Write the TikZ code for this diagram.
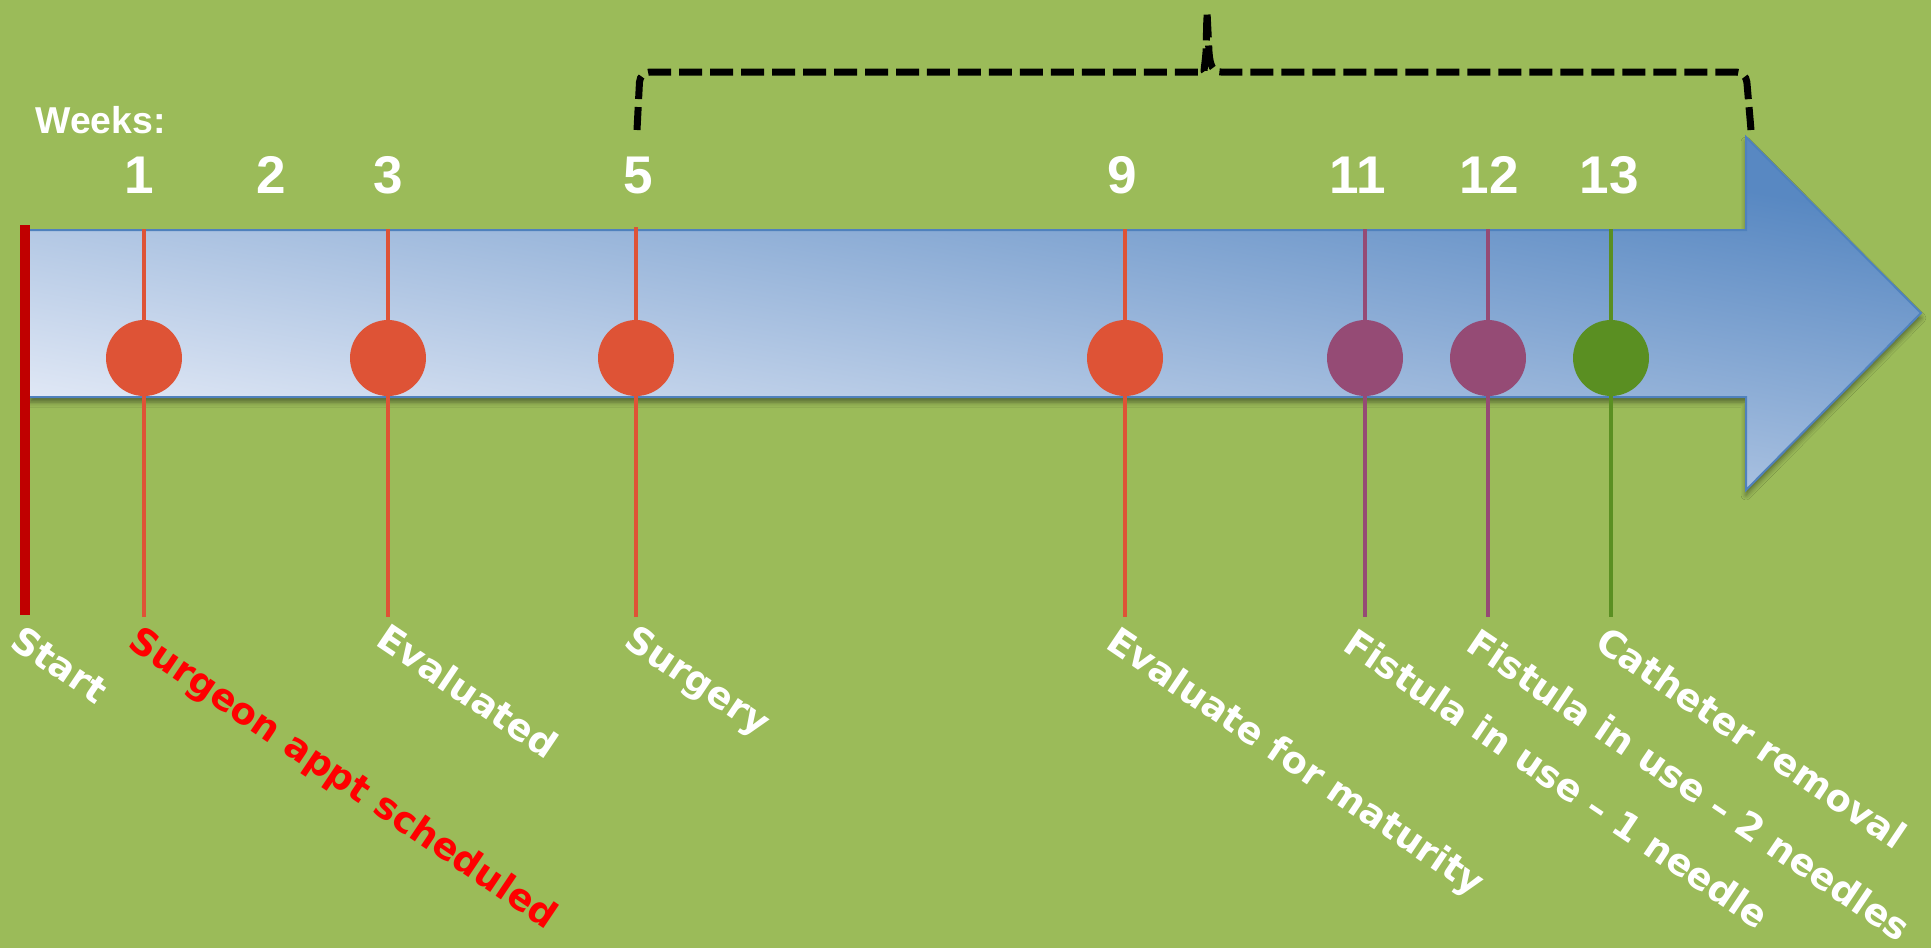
\documentclass[tikz,border=0pt]{standalone}
\usepackage{fontspec}
\setmainfont{Liberation Sans}
\newfontfamily\tagfont{DejaVu Sans}
\usepackage{xcolor}
\usetikzlibrary{shadows.blur}

\definecolor{slidegreen}{HTML}{9BBB59}
\definecolor{shaftlight}{HTML}{E2E9F6}
\definecolor{shaftdark}{HTML}{5888C2}
\definecolor{shaftedge}{HTML}{4F81BD}
\definecolor{dotred}{HTML}{DE5336}
\definecolor{dotpurple}{HTML}{954B75}
\definecolor{dotgreen}{HTML}{5A8F22}
\definecolor{startred}{HTML}{C00000}

\begin{document}
\begin{tikzpicture}[x=0.02cm, y=-0.02cm,
  week/.style={text=white, font=\fontsize{30.2pt}{36pt}\selectfont\bfseries, anchor=base, inner sep=0pt},
  milestone/.style={text=white, font=\tagfont\fontsize{21pt}{26pt}\selectfont\bfseries, rotate=-34, anchor=north west, inner sep=0pt},
  dot/.style={circle, minimum size=1.52cm, inner sep=0pt},
  stem/.style={line width=0.09cm},
  brace/.style={draw=black, line width=0.14cm, dash pattern=on 0.46cm off 0.16cm},
]

\useasboundingbox (0,0) rectangle (1931,948);
\fill[slidegreen] (0,0) rectangle (1931,948);

% timeline arrow: outline corners
\coordinate (a1) at (30,230);
\coordinate (a2) at (1746,230);
\coordinate (a3) at (1746,137);
\coordinate (tip) at (1921,313);
\coordinate (a5) at (1746,490);
\coordinate (a6) at (1746,397);
\coordinate (a7) at (30,397);

\fill[shaftdark, blur shadow={shadow xshift=0pt, shadow yshift=-0.1cm, shadow blur radius=0.1cm, shadow opacity=45}]
  (a1) -- (a2) -- (a3) -- (tip) -- (a5) -- (a6) -- (a7) -- cycle;
\begin{scope}
  \clip (a1) -- (a2) -- (a3) -- (tip) -- (a5) -- (a6) -- (a7) -- cycle;
  % gradient tilted a little so the top right is darkest
  \shade[transform canvas={rotate around={-10:(975,313)}}, top color=shaftdark, bottom color=shaftlight]
    (-300,58) rectangle (2250,568);
\end{scope}
\draw[shaftedge, line width=0.04cm] (a1) -- (a2) -- (a3) -- (tip) -- (a5) -- (a6) -- (a7);

\node[fill=startred, minimum width=0.2cm, minimum height=7.8cm, inner sep=0pt, anchor=north west] (startbar) at (20,225) {};

% week numbers
\node[text=white, font=\fontsize{21.3pt}{26pt}\selectfont\bfseries, anchor=base west, inner sep=0pt] (weeks) at (35,133) {Weeks:};
\node[week] (w1) at (139,193) {1};
\node[week] (w2) at (271,193) {2};
\node[week] (w3) at (388,193) {3};
\node[week] (w5) at (638,193) {5};
\node[week] (w9) at (1122,193) {9};
\node[week] (w11) at (1358,193) {11};
\node[week] (w12) at (1489,193) {12};
\node[week] (w13) at (1609,193) {13};

% stems
\coordinate (t1) at (144,229);  \coordinate (f1) at (144,617);
\coordinate (t3) at (388,229);  \coordinate (f3) at (388,617);
\coordinate (t5) at (636,227);  \coordinate (f5) at (636,617);
\coordinate (t9) at (1125,229); \coordinate (f9) at (1125,617);
\coordinate (t11) at (1365,229); \coordinate (f11) at (1365,617);
\coordinate (t12) at (1488,229); \coordinate (f12) at (1488,617);
\coordinate (t13) at (1611,229); \coordinate (f13) at (1611,617);

\draw[stem, dotred] (t1) -- (f1);
\draw[stem, dotred] (t3) -- (f3);
\draw[stem, dotred] (t5) -- (f5);
\draw[stem, dotred] (t9) -- (f9);
\draw[stem, dotpurple] (t11) -- (f11);
\draw[stem, dotpurple] (t12) -- (f12);
\draw[stem, dotgreen] (t13) -- (f13);

\node[dot, fill=dotred] (d1) at (144,358) {};
\node[dot, fill=dotred] (d3) at (388,358) {};
\node[dot, fill=dotred] (d5) at (636,358) {};
\node[dot, fill=dotred] (d9) at (1125,358) {};
\node[dot, fill=dotpurple] (d11) at (1365,358) {};
\node[dot, fill=dotpurple] (d12) at (1488,358) {};
\node[dot, fill=dotgreen] (d13) at (1611,358) {};

% milestone labels
\node[milestone] (lstart) at (24,623) {Start};
\node[milestone, text=red] (l1) at (142,623) {Surgeon appt scheduled};
\node[milestone] (l3) at (390,621) {Evaluated};
\node[milestone] (l5) at (638,622) {Surgery};
\node[milestone] (l9) at (1120,624) {Evaluate for maturity};
\node[milestone] (l11) at (1357,626) {Fistula in use – 1 needle};
\node[milestone] (l12) at (1480,626) {Fistula in use – 2 needles};
\node[milestone] (l13) at (1609,624) {Catheter removal};

% dashed brace over weeks 5--13
\coordinate (braceL) at (637,130);
\coordinate (braceR) at (1751,130);
\coordinate (braceTip) at (1207,12);
\draw[brace] (braceL) [rounded corners=0.2cm] -- (640,72) -- (1195,72) [sharp corners]
  .. controls (1203,72) and (1205,66) .. (1206,52) -- (braceTip) -- (1209,52)
  .. controls (1210,66) and (1213,72) .. (1221,72) [rounded corners=0.2cm] -- (1746,72) -- (braceR);

\end{tikzpicture}
\end{document}
